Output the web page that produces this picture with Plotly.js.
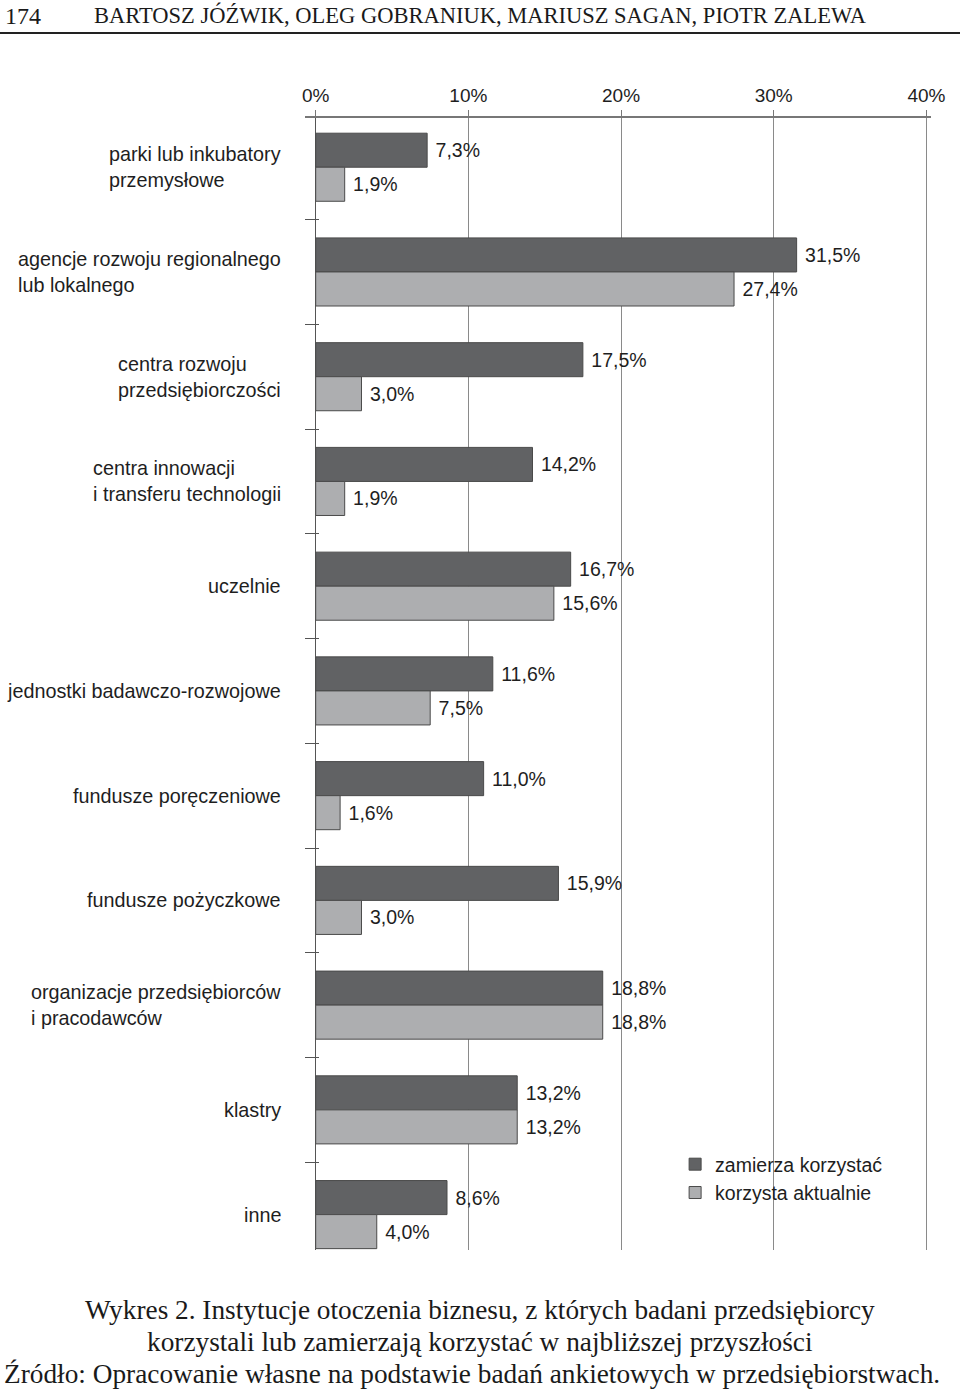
<!DOCTYPE html>
<html>
<head>
<meta charset="utf-8">
<script src="https://cdn.plot.ly/plotly-3.0.1.min.js"></script>
<style>
  body { margin: 0; background: #fff; }
  #chart { width: 960px; height: 1392px; }
</style>
</head>
<body>
<div id="chart"></div>
<script>
// categories, top to bottom
const categories = [
    'parki lub inkubatory<br>przemysłowe',
    'agencje rozwoju regionalnego<br>lub lokalnego',
    'centra rozwoju<br>przedsiębiorczości',
    'centra innowacji<br>i transferu technologii',
    'uczelnie',
    'jednostki badawczo-rozwojowe',
    'fundusze poręczeniowe',
    'fundusze pożyczkowe',
    'organizacje przedsiębiorców<br>i pracodawców',
    'klastry',
    'inne'
];
const zamierza = [7.3, 31.5, 17.5, 14.2, 16.7, 11.6, 11.0, 15.9, 18.8, 13.2, 8.6];
const korzysta = [1.9, 27.4, 3.0, 1.9, 15.6, 7.5, 1.6, 3.0, 18.8, 13.2, 4.0];
const seriesNames = ['zamierza korzystać', 'korzysta aktualnie'];
const xTicks = [0, 10, 20, 30, 40];
const captionLines = [
    'Wykres 2. Instytucje otoczenia biznesu, z których badani przedsiębiorcy',
    'korzystali lub zamierzają korzystać w najbliższej przyszłości',
    'Źródło: Opracowanie własne na podstawie badań ankietowych w przedsiębiorstwach.'
];

// page geometry of the plot area (pixels)
const L = 305.3, R = 930.6, T = 118, B = 1250;
const px = x => (x - L) / (R - L);
const py = y => 1 - (y - T) / (B - T);

const fmt = v => '\u00a0' + v.toFixed(1).replace('.', ',') + '%';
const sans = 'Liberation Sans, Arial, sans-serif';
const serif = 'Liberation Serif, Times New Roman, serif';

function barTrace(vals, name, color) {
    return {
        type: 'bar',
        orientation: 'h',
        x: vals,
        y: categories,
        name: name,
        text: vals.map(fmt),
        textposition: 'outside',
        constraintext: 'none',
        cliponaxis: false,
        textfont: { family: sans, size: 19.5, color: '#1e1e1e' },
        marker: { color: color, line: { color: '#4a4a4a', width: 1 } },
        hoverinfo: 'skip'
    };
}

const data = [
    barTrace(zamierza, seriesNames[0], '#616264'),
    barTrace(korzysta, seriesNames[1], '#adaeb0')
];

const annotations = categories.map(c => ({
    xref: 'paper', yref: 'y',
    x: px(283), y: c,
    xanchor: 'right', yanchor: 'middle',
    align: 'left',
    text: c,
    showarrow: false,
    font: { family: sans, size: 19.8, color: '#1e1e1e' }
}));

annotations.push(
    {
        xref: 'paper', yref: 'paper', x: px(4), y: py(16),
        xanchor: 'left', yanchor: 'middle', showarrow: false,
        text: '174', font: { family: serif, size: 24, color: '#1a1a1a' }
    },
    {
        xref: 'paper', yref: 'paper', x: px(93), y: py(15),
        xanchor: 'left', yanchor: 'middle', showarrow: false,
        text: 'BARTOSZ JÓŹWIK, OLEG GOBRANIUK, MARIUSZ SAGAN, PIOTR ZALEWA',
        font: { family: serif, size: 22.5, color: '#1a1a1a' }
    }
);

const captionY = [1310, 1342, 1374];
const captionX = [480, 480, 472];
captionLines.forEach((line, i) => annotations.push({
    xref: 'paper', yref: 'paper', x: px(captionX[i]), y: py(captionY[i]),
    xanchor: 'center', yanchor: 'middle', showarrow: false,
    text: line,
    font: { family: serif, size: 27.3, color: '#1a1a1a' }
}));

const layout = {
    width: 960,
    height: 1392,
    margin: { l: L, r: 960 - R, t: T, b: 1392 - B, pad: 0 },
    paper_bgcolor: '#fff',
    plot_bgcolor: '#fff',
    barmode: 'group',
    bargap: 0.35,
    bargroupgap: 0,
    showlegend: true,
    legend: {
        x: px(675), y: py(1145), xanchor: 'left', yanchor: 'top',
        bgcolor: 'rgba(0,0,0,0)',
        font: { family: sans, size: 19.5, color: '#1e1e1e' },
        tracegroupgap: 0
    },
    xaxis: {
        side: 'top',
        range: [-0.7, 40.3],
        tickvals: xTicks,
        ticktext: xTicks.map(t => t + '%'),
        ticks: 'outside', ticklen: 6, tickcolor: '#777',
        showline: true, linecolor: '#777', linewidth: 2,
        showgrid: true, gridcolor: '#8a8a8a', gridwidth: 1,
        zeroline: true, zerolinecolor: '#555', zerolinewidth: 1.5,
        tickfont: { family: sans, size: 19, color: '#1e1e1e' },
        fixedrange: true
    },
    yaxis: {
        type: 'category',
        range: [10.338, -0.47],
        showticklabels: false,
        ticks: 'inside', ticklen: 14, tickcolor: '#555',
        tickson: 'boundaries',
        showgrid: false, zeroline: false, showline: false,
        fixedrange: true
    },
    annotations: annotations,
    shapes: [{
        type: 'line', xref: 'paper', yref: 'paper',
        x0: px(0), x1: px(960), y0: py(33), y1: py(33),
        line: { color: '#222', width: 2 }
    }]
};

Plotly.newPlot('chart', data, layout, { displayModeBar: false, staticPlot: true });
</script>
</body>
</html>
